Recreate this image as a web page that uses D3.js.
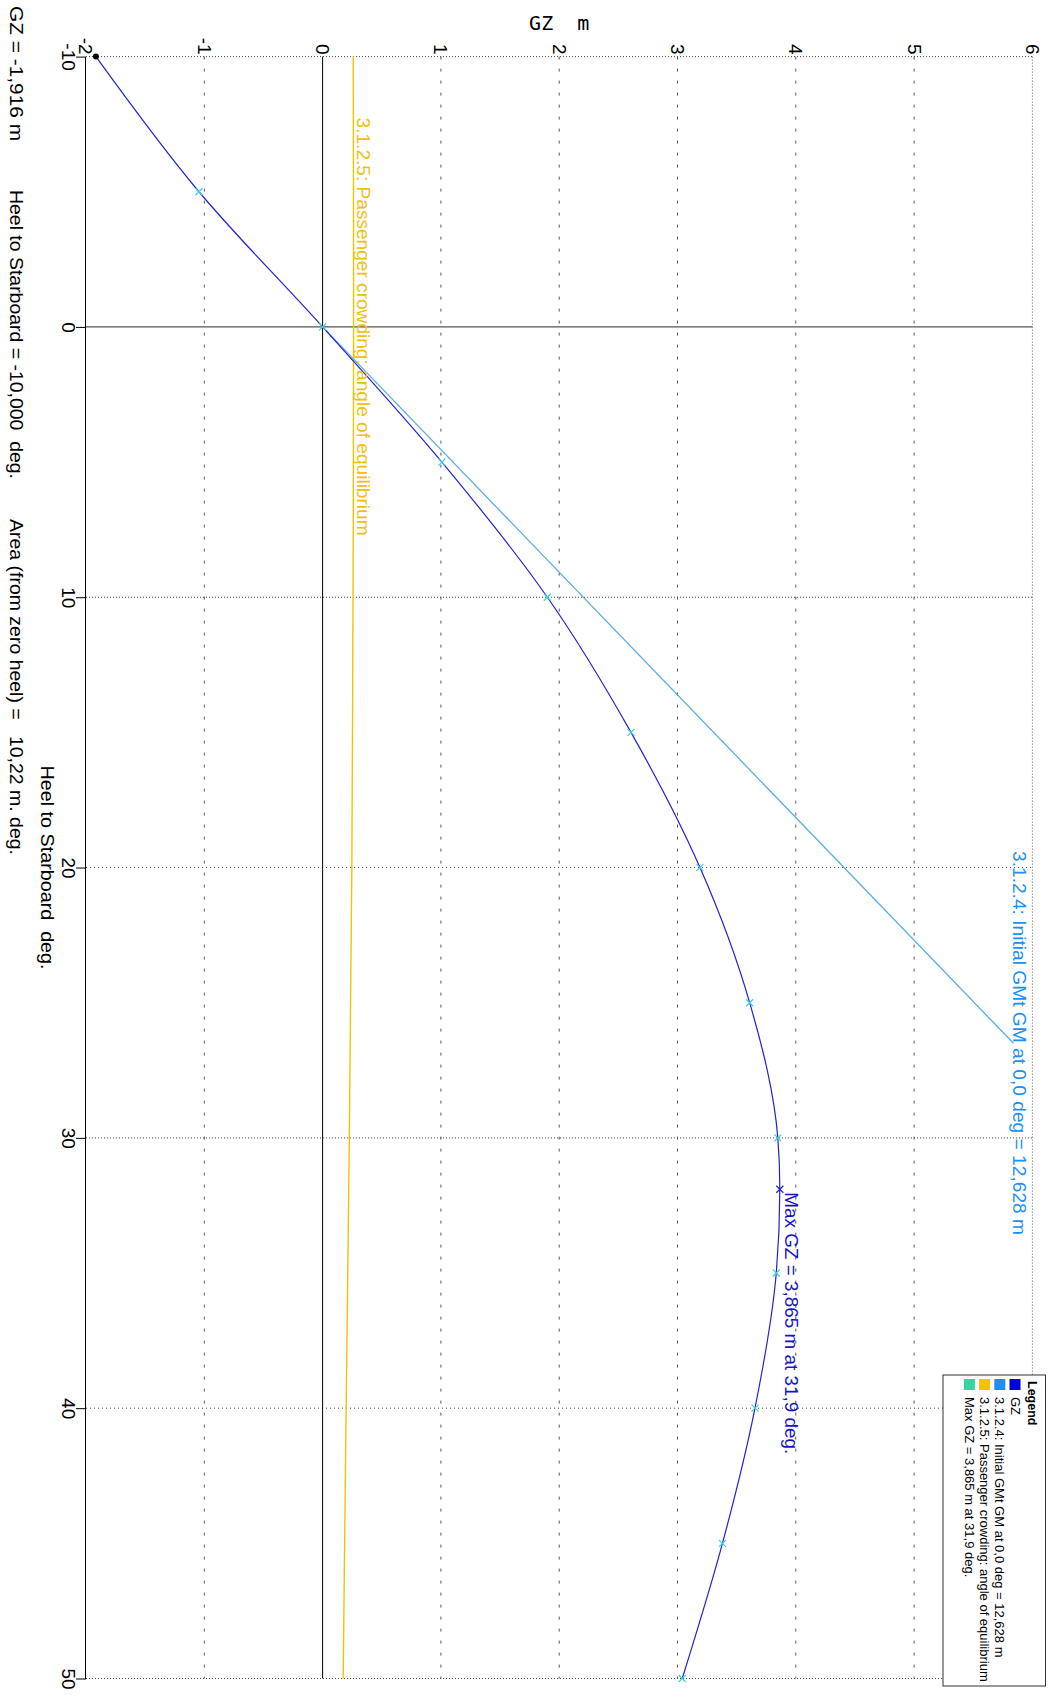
<!DOCTYPE html>
<html><head><meta charset="utf-8">
<script src="https://cdn.jsdelivr.net/npm/d3@7"></script>
<style>
body{margin:0;background:#fff}
svg{display:block}
text{font-family:"Liberation Sans Narrow","Liberation Sans",Arial,sans-serif}
</style></head><body>
<script>
// ---- data ----
const heelTicks = [-10, 0, 10, 20, 30, 40, 50];
const gzTicks = [-2, -1, 0, 1, 2, 3, 4, 5, 6];
const heel = [-10, -5, 0, 5, 10, 15, 20, 25, 30, 35, 40, 45, 50];
const gz   = [-1.916, -1.045, 0, 1.008, 1.90, 2.607, 3.19, 3.61, 3.848, 3.835, 3.655, 3.38, 3.04];
const maxHeel = [31.9];
const maxGZ = [3.865];
const gmHeel = [0, 26.5];
const gmGZ = [0, 5.84];
const crowdHeel = [-10, 0, 10, 20, 30, 40, 50];
const crowdGZ = [0.259, 0.262, 0.257, 0.247, 0.226, 0.199, 0.174];
const legendLabels = ["GZ", "3.1.2.4: Initial GMt GM at 0,0 deg = 12,628 m",
  "3.1.2.5: Passenger crowding: angle of equilibrium", "Max GZ = 3,865 m at 31,9 deg."];
const legendColors = ["#0000dd", "#1e8ff0", "#f5c000", "#33d6a0"];
const infoTexts = ["GZ = -1,916 m", "Heel to Starboard = -10,000  deg.", "Area (from zero heel) =   10,22 m. deg."];

// ---- layout (landscape, then rotated 90deg clockwise) ----
const svg = d3.select("body").append("svg").attr("width", 1050).attr("height", 1708);
const g = svg.append("g").attr("transform", "translate(1050,0) rotate(90)");

const x = d3.scaleLinear().domain([-10, 50]).range([56.6, 1678.5]);
const y = d3.scaleLinear().domain([-2, 6]).range([964, 17.6]);

// grid
const grid = g.append("g");
grid.selectAll("line.gx").data(heelTicks.filter(d => d !== 0)).join("line")
  .attr("x1", d => x(d)).attr("x2", d => x(d)).attr("y1", y(-2)).attr("y2", y(6))
  .attr("stroke", "#444").attr("stroke-width", 1)
  .attr("stroke-dasharray", d => (d === 20 || d === 40) ? "1,3" : "1,2");
grid.selectAll("line.gy").data(gzTicks.filter(d => d !== 0 && d !== -2)).join("line")
  .attr("x1", x(-10)).attr("x2", x(50)).attr("y1", d => y(d)).attr("y2", d => y(d))
  .attr("stroke", "#555").attr("stroke-width", 1)
  .attr("stroke-dasharray", d => d === 6 ? "1,2" : "3,9");
// zero lines
g.append("line").attr("x1", x(-10)).attr("x2", x(50)).attr("y1", y(0)).attr("y2", y(0))
  .attr("stroke", "#000").attr("stroke-width", 1);
g.append("line").attr("x1", x(0)).attr("x2", x(0)).attr("y1", y(-2)).attr("y2", y(6))
  .attr("stroke", "#555").attr("stroke-width", 1.4);

// axes
const xAxis = g.append("g").attr("transform", `translate(0,${y(-2)})`)
  .call(d3.axisBottom(x).tickValues(heelTicks).tickFormat(d => String(d)).tickSize(10).tickSizeOuter(0).tickPadding(1));
xAxis.select(".domain").attr("stroke", "#000");
xAxis.selectAll("text").attr("font-size", 19).attr("fill", "#000");
const yAxis = g.append("g").attr("transform", `translate(${x(-10)},0)`)
  .call(d3.axisLeft(y).tickValues(gzTicks).tickFormat(d => String(d)).tickSize(0).tickPadding(2));
yAxis.select(".domain").remove();
yAxis.selectAll("text").attr("font-size", 19).attr("fill", "#000");

// crowding heeling arm
g.append("path").datum(crowdHeel.map((h, i) => [h, crowdGZ[i]]))
  .attr("d", d3.line().x(d => x(d[0])).y(d => y(d[1])).curve(d3.curveMonotoneX))
  .attr("fill", "none").attr("stroke", "#f2c400").attr("stroke-width", 1.4);

// initial GM line
g.append("path").datum(gmHeel.map((h, i) => [h, gmGZ[i]]))
  .attr("d", d3.line().x(d => x(d[0])).y(d => y(d[1])))
  .attr("fill", "none").attr("stroke", "#5aaee0").attr("stroke-width", 1.3);

// GZ curve
const curvePts = heel.map((h, i) => [h, gz[i]]).concat(maxHeel.map((h, i) => [h, maxGZ[i]]))
  .sort((a, b) => a[0] - b[0]);
g.append("path").datum(curvePts)
  .attr("d", d3.line().x(d => x(d[0])).y(d => y(d[1])).curve(d3.curveMonotoneX))
  .attr("fill", "none").attr("stroke", "#2222cc").attr("stroke-width", 1.2);

// markers
const cross = (sel, s) => sel.attr("d", `M${-s},${-s}L${s},${s}M${-s},${s}L${s},${-s}`);
g.selectAll("path.mk").data(heel.map((h, i) => [h, gz[i]]).slice(1)).join("path")
  .attr("transform", d => `translate(${x(d[0])},${y(d[1])})`)
  .call(cross, 3.5).attr("stroke", "#3fd0dc").attr("stroke-width", 1.2).attr("fill", "none");
g.selectAll("path.mx").data(maxHeel.map((h, i) => [h, maxGZ[i]])).join("path")
  .attr("transform", d => `translate(${x(d[0])},${y(d[1])})`)
  .call(cross, 3.5).attr("stroke", "#2222cc").attr("stroke-width", 1.2).attr("fill", "none");
g.append("circle").attr("cx", x(heel[0])).attr("cy", y(gz[0])).attr("r", 3).attr("fill", "#000");

// annotations
g.append("text").attr("x", x(-10) + 61).attr("y", y(crowdGZ[0]) - 4)
  .attr("font-size", 18).attr("fill", "#f0c010")
  .attr("textLength", 418).attr("lengthAdjust", "spacingAndGlyphs")
  .text(legendLabels[2]);
g.append("text").attr("x", 851).attr("y", 37)
  .attr("font-size", 19).attr("fill", "#1e8ff0")
  .attr("textLength", 384).attr("lengthAdjust", "spacingAndGlyphs")
  .text(legendLabels[1]);
g.append("text").attr("x", x(maxHeel[0]) + 3).attr("y", y(maxGZ[0]) - 5)
  .attr("font-size", 19).attr("fill", "#1414c8")
  .attr("textLength", 262).attr("lengthAdjust", "spacingAndGlyphs")
  .text(legendLabels[3]);

// axis titles
g.append("text").attr("x", x(20)).attr("y", 1009).attr("text-anchor", "middle")
  .attr("font-size", 18).attr("fill", "#000")
  .attr("xml:space", "preserve").style("white-space", "pre")
  .attr("textLength", 204).attr("lengthAdjust", "spacingAndGlyphs")
  .text("Heel to Starboard  deg.");
g.append("text").attr("transform", `translate(30,${y(2)}) rotate(-90)`)
  .attr("text-anchor", "middle").attr("font-size", 20).attr("fill", "#000")
  .style("font-family", "'DejaVu Sans Mono','Liberation Mono',monospace")
  .attr("xml:space", "preserve").style("white-space", "pre")
  .text("GZ  m");

// info line
const infoX = [6, 190, 519], infoW = [135, 289, 336];
g.selectAll("text.info").data(infoTexts).join("text")
  .attr("x", (d, i) => infoX[i]).attr("y", 1040)
  .attr("font-size", 18).attr("fill", "#000")
  .attr("xml:space", "preserve").style("white-space", "pre")
  .attr("textLength", (d, i) => infoW[i]).attr("lengthAdjust", "spacingAndGlyphs")
  .text(d => d);

// legend
const lg = g.append("g");
lg.append("rect").attr("x", 1375).attr("y", 4.5).attr("width", 311).attr("height", 102.5)
  .attr("fill", "#fff").attr("stroke", "#333").attr("stroke-width", 1);
lg.append("text").attr("x", 1381).attr("y", 22).attr("font-size", 12.5).attr("font-weight", "bold")
  .style("font-family", "'Liberation Sans',Arial,sans-serif").text("Legend");
const rows = lg.selectAll("g.row").data(legendLabels).join("g")
  .attr("transform", (d, i) => `translate(1379,${35 + i * 15.2})`);
rows.append("rect").attr("x", 0).attr("y", -5.5).attr("width", 11).attr("height", 11)
  .attr("fill", (d, i) => legendColors[i]);
rows.append("text").attr("x", 18).attr("y", 4.5).attr("font-size", 13).attr("fill", "#000")
  .style("font-family", "'Liberation Sans',Arial,sans-serif").text(d => d);
</script>
</body></html>
